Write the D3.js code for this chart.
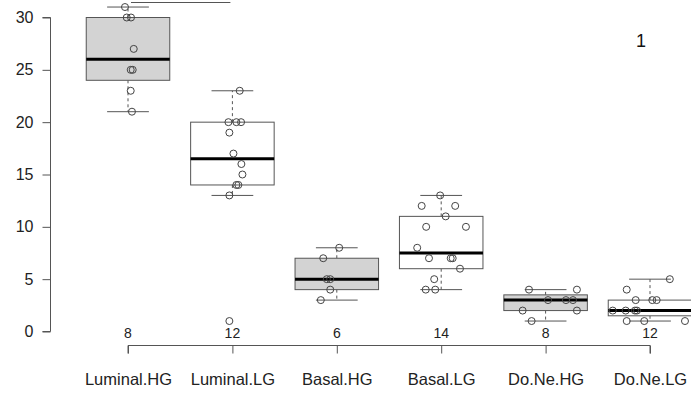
<!DOCTYPE html>
<html>
<head>
<meta charset="utf-8">
<script src="https://cdn.jsdelivr.net/npm/d3@7"></script>
<style>
  html, body { margin: 0; padding: 0; background: #fff; }
  svg { display: block; font-family: "Liberation Sans", Arial, Helvetica, sans-serif; }
</style>
</head>
<body>
<svg id="chart" width="691" height="394"></svg>
<script>
// ---- data ----
const categories = ["Luminal.HG", "Luminal.LG", "Basal.HG", "Basal.LG", "Do.Ne.HG", "Do.Ne.LG"];
const counts = [8, 12, 6, 14, 8, 12];
const yTicks = [0, 5, 10, 15, 20, 25, 30];

const lumHG = [31, 30, 30, 27, 25, 25, 23, 21];
const lumLG = [23, 20, 20, 20, 19, 17, 16, 15, 14, 14, 13, 1];
const basHG = [8, 7, 5, 5, 4, 3];
const basLG = [13, 12, 12, 11, 10, 10, 8, 7, 7, 7, 6, 5, 4, 4];
const dnHG  = [4, 4, 3, 3, 3, 2, 2, 1];
const dnLG  = [5, 4, 3, 3, 3, 2, 2, 2, 2, 1, 1, 1];

// horizontal jitter of each point (fraction of category spacing)
const lumHGJitter = [-0.029, -0.012, 0.029, 0.055, 0.026, 0.045, 0.026, 0.038];
const lumLGJitter = [0.07, -0.038, 0.038, 0.083, -0.029, 0.01, 0.086, 0.096, 0.038, 0.057, -0.029, -0.029];
const basHGJitter = [0.023, -0.13, -0.096, -0.063, -0.063, -0.153];
const basLGJitter = [-0.01, -0.187, 0.134, 0.043, -0.144, 0.237, -0.23, -0.117, 0.091, 0.11, 0.18, -0.067, -0.148, -0.057];
const dnHGJitter  = [-0.159, 0.3, 0.023, 0.195, 0.262, -0.22, 0.3, -0.134];
const dnLGJitter  = [0.19, -0.223, -0.137, 0.022, 0.064, -0.357, -0.233, -0.144, -0.125, -0.223, -0.055, 0.335];

const seriesValues = [lumHG, lumLG, basHG, basLG, dnHG, dnLG];
const seriesJitter = [lumHGJitter, lumLGJitter, basHGJitter, basLGJitter, dnHGJitter, dnLGJitter];

// ---- helpers ----
function fivenum(arr) {
  const x = arr.slice().sort((a, b) => a - b);
  const n = x.length;
  const n4 = Math.floor((n + 3) / 2) / 2;
  const d = [1, n4, (n + 1) / 2, n + 1 - n4, n];
  return d.map(v => 0.5 * (x[Math.floor(v) - 1] + x[Math.ceil(v) - 1]));
}
function boxStats(arr) {
  const f = fivenum(arr);
  const iqr = f[3] - f[1];
  const lo = f[1] - 1.5 * iqr, hi = f[3] + 1.5 * iqr;
  const inside = arr.filter(v => v >= lo && v <= hi);
  return { q1: f[1], med: f[2], q3: f[3], wlo: d3.min(inside), whi: d3.max(inside) };
}

// ---- scales ----
const svg = d3.select("#chart");
const x = d3.scalePoint().domain(categories).range([128, 650]);
const y = d3.scaleLinear().domain([0, 30]).range([331.5, 17.5]);
const step = x.step();
const halfBox = step * 0.4;
const halfCap = step * 0.2;
const boxStroke = "#555";

// ---- y axis ----
const yAxis = svg.append("g").attr("transform", "translate(50.5,0)")
  .call(d3.axisLeft(y).tickValues(yTicks).tickSize(8).tickPadding(9).tickFormat(d3.format("d")));
yAxis.select(".domain").attr("stroke", "#555").attr("d", `M-8,${y(0)}H0V${y(30)}H-8`);
yAxis.selectAll(".tick line").attr("stroke", "#555");
yAxis.selectAll(".tick text").attr("font-size", 16).attr("fill", "#222")
  .attr("font-family", "'Liberation Sans', Arial, sans-serif");

// ---- x axis (below) ----
const xAxis = svg.append("g").attr("transform", "translate(0,345.5)")
  .call(d3.axisBottom(x).tickSize(8).tickPadding(20));
xAxis.select(".domain").attr("stroke", "#555").attr("d", `M${x(categories[0])},8V0H${x(categories[5])}V8`);
xAxis.selectAll(".tick line").attr("stroke", "#555");
xAxis.selectAll(".tick text").attr("font-size", 16.5).attr("fill", "#222")
  .attr("font-family", "'Liberation Sans', Arial, sans-serif").attr("dy", "0.71em");

// ---- count labels ----
svg.append("g").selectAll("text").data(categories).join("text")
  .attr("x", d => x(d)).attr("y", 338)
  .attr("text-anchor", "middle").attr("font-size", 14).attr("fill", "#222")
  .text((d, i) => counts[i]);

// ---- boxes ----
const g = svg.append("g");
categories.forEach((c, i) => {
  const s = boxStats(seriesValues[i]);
  const cx = x(c);
  const fill = c.endsWith(".HG") ? "#d3d3d3" : "#ffffff";
  // whiskers
  g.append("line").attr("x1", cx).attr("x2", cx).attr("y1", y(s.q3)).attr("y2", y(s.whi))
    .attr("stroke", boxStroke).attr("stroke-dasharray", "3,3");
  g.append("line").attr("x1", cx).attr("x2", cx).attr("y1", y(s.q1)).attr("y2", y(s.wlo))
    .attr("stroke", boxStroke).attr("stroke-dasharray", "3,3");
  // caps
  [s.whi, s.wlo].forEach(v => {
    g.append("line").attr("x1", cx - halfCap).attr("x2", cx + halfCap)
      .attr("y1", y(v)).attr("y2", y(v)).attr("stroke", boxStroke);
  });
  // box
  g.append("rect").attr("x", cx - halfBox).attr("width", 2 * halfBox)
    .attr("y", y(s.q3)).attr("height", y(s.q1) - y(s.q3))
    .attr("fill", fill).attr("stroke", boxStroke).attr("stroke-width", 1);
  // median
  g.append("line").attr("x1", cx - halfBox).attr("x2", cx + halfBox)
    .attr("y1", y(s.med)).attr("y2", y(s.med)).attr("stroke", "#000").attr("stroke-width", 3);
});

// ---- points ----
categories.forEach((c, i) => {
  const vals = seriesValues[i], jit = seriesJitter[i];
  svg.append("g").selectAll("circle").data(vals).join("circle")
    .attr("cx", (d, j) => x(c) + jit[j] * step)
    .attr("cy", d => y(d))
    .attr("r", 3.5)
    .attr("fill", "none").attr("stroke", "#444").attr("stroke-width", 1);
});

// ---- cropped annotation bracket at the top ----
svg.append("line").attr("x1", x(categories[0]) + 3).attr("x2", x(categories[1]) - 2)
  .attr("y1", 2.5).attr("y2", 2.5).attr("stroke", "#555");

// ---- panel label ----
svg.append("text").attr("x", 641).attr("y", 47).attr("text-anchor", "middle")
  .attr("font-size", 18).attr("fill", "#111").text("1");
</script>
</body>
</html>
